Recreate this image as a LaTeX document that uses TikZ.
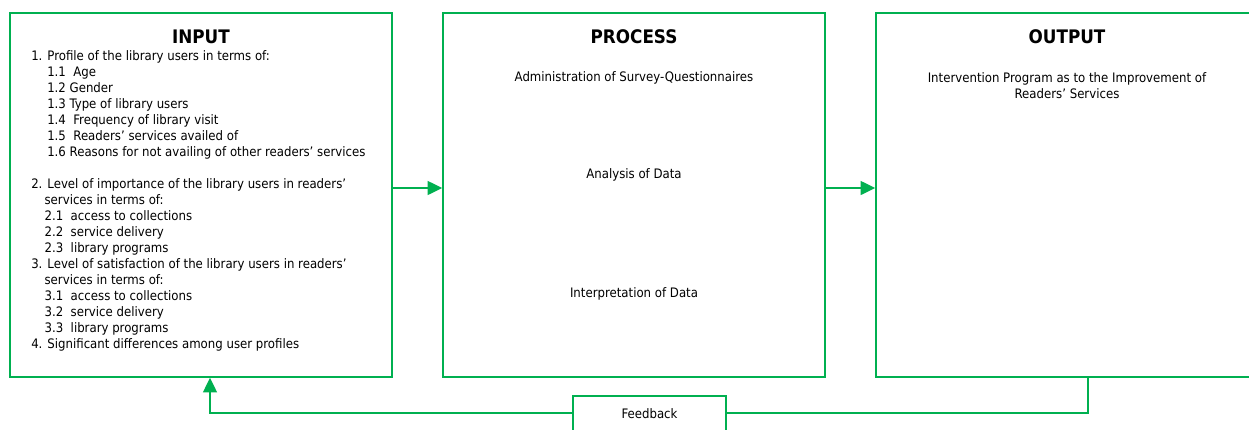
\documentclass[tikz,border=0pt]{standalone}
\usepackage{fontspec}
\setmainfont{DejaVu Sans Condensed}
\usetikzlibrary{arrows.meta,positioning,calc}
\definecolor{ipogreen}{RGB}{0,176,80}

\begin{document}
\begin{tikzpicture}[
  x=0.75pt, y=-0.75pt,
  every node/.style={font=\fontsize{9.8}{12}\selectfont, inner sep=0pt},
  stagebox/.style={draw=ipogreen, line width=1.2pt, minimum width=286.5pt, minimum height=273pt},
  stagetitle/.style={font=\fontsize{14}{16}\selectfont\bfseries, anchor=base},
  flow/.style={draw=ipogreen, line width=1.2pt, -{Triangle[length=11pt,width=10.5pt]}},
]
  \useasboundingbox (0,0) rectangle (1249,429);

  % the three stages
  \node[stagebox] (input)   at (201,195) {};
  \node[stagebox] (process) at (634,195) {};
  \node[stagebox] (output)  at (1067,195) {};

  \node[stagetitle] (inputtitle)   at (201,43)  {INPUT};
  \node[stagetitle] (processtitle) at (634,43)  {PROCESS};
  \node[stagetitle] (outputtitle)  at (1067,43) {OUTPUT};

  % input variables
  \node[anchor=north west, align=left] (inputlist) at (31,50) {%
    1. Profile of the library users in terms of:\\
    \hspace*{12pt}1.1\ \ Age\\
    \hspace*{12pt}1.2 Gender\\
    \hspace*{12pt}1.3 Type of library users\\
    \hspace*{12pt}1.4\ \ Frequency of library visit\\
    \hspace*{12pt}1.5\ \ Readers’ services availed of\\
    \hspace*{12pt}1.6 Reasons for not availing of other readers’ services\\[12pt]
    2. Level of importance of the library users in readers’\\
    \hspace*{10pt}services in terms of:\\
    \hspace*{10pt}2.1\ \ access to collections\\
    \hspace*{10pt}2.2\ \ service delivery\\
    \hspace*{10pt}2.3\ \ library programs\\
    3. Level of satisfaction of the library users in readers’\\
    \hspace*{10pt}services in terms of:\\
    \hspace*{10pt}3.1\ \ access to collections\\
    \hspace*{10pt}3.2\ \ service delivery\\
    \hspace*{10pt}3.3\ \ library programs\\
    4. Significant differences among user profiles
  };

  % process steps
  \node[anchor=base] (survey)   at (634,81)  {Administration of Survey-Questionnaires};
  \node[anchor=base] (analysis) at (634,178) {Analysis of Data};
  \node[anchor=base] (interp)   at (634,297) {Interpretation of Data};

  % output
  \node[anchor=north, align=center] (program) at (1067,72)
    {Intervention Program as to the Improvement of\\Readers’ Services};

  % arrows between stages
  \draw[flow] ([yshift=5.25pt]input.east) -- ([yshift=5.25pt]process.west);
  \draw[flow] ([yshift=5.25pt]process.east) -- ([yshift=5.25pt]output.west);

  % feedback loop
  \coordinate (fbright) at (1088,413);
  \coordinate (fbleft)  at (210,413);
  \draw[flow] (output.south -| fbright) -- (fbright) -- (fbleft) -- (fbleft |- input.south);
  \node[draw=ipogreen, line width=1.2pt, fill=white, minimum width=114.5pt, minimum height=27pt]
    (feedback) at (649.5,414) {Feedback};
\end{tikzpicture}
\end{document}
